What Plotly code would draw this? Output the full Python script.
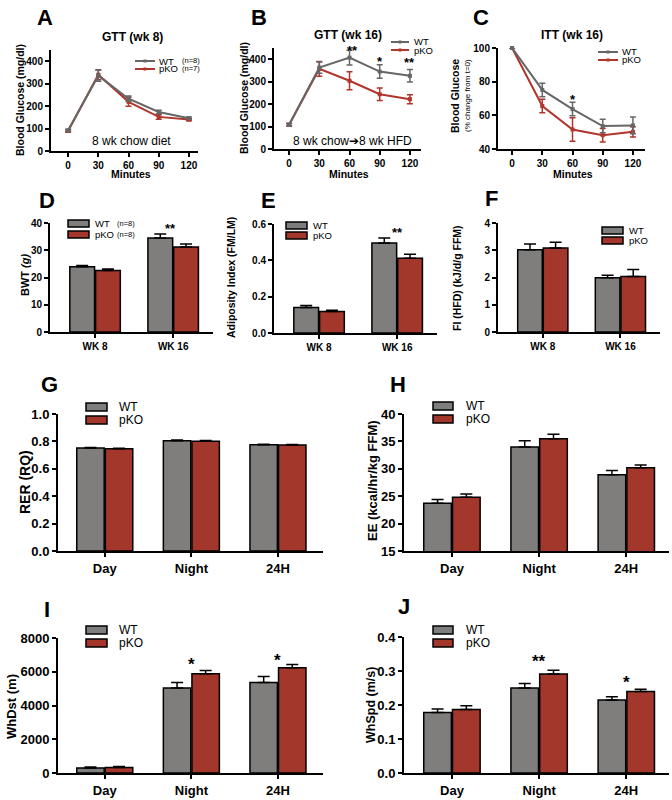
import plotly.graph_objects as go

W, H = 672, 800

# ---------------- data ----------------
minutes = [0, 30, 60, 90, 120]
gtt8_wt = [92, 336, 233, 174, 146]
gtt8_wt_err = [5, 25, 12, 8, 5]
gtt8_ko = [89, 340, 219, 152, 140]
gtt8_ko_err = [5, 22, 20, 10, 5]

gtt16_wt = [108, 363, 407, 345, 326]
gtt16_wt_err = [6, 25, 33, 30, 28]
gtt16_ko = [108, 357, 304, 244, 222]
gtt16_ko_err = [6, 33, 40, 28, 20]

itt_wt = [100, 75.1, 63.7, 53.6, 54.0]
itt_wt_err = [0, 4, 4, 4, 5]
itt_ko = [100, 65.5, 51.6, 48.2, 50.2]
itt_ko_err = [0, 4, 7, 4, 3]

weeks = ["WK 8", "WK 16"]
bwt_wt = [23.9, 34.5]
bwt_wt_err = [0.5, 1.5]
bwt_ko = [22.6, 31.2]
bwt_ko_err = [0.5, 1.1]
adi_wt = [0.141, 0.495]
adi_wt_err = [0.011, 0.028]
adi_ko = [0.119, 0.411]
adi_ko_err = [0.006, 0.022]
fi_wt = [3.02, 1.99]
fi_wt_err = [0.21, 0.09]
fi_ko = [3.08, 2.04]
fi_ko_err = [0.21, 0.25]

periods = ["Day", "Night", "24H"]
rer_wt = [0.751, 0.805, 0.776]
rer_wt_err = [0.004, 0.005, 0.004]
rer_ko = [0.746, 0.802, 0.773]
rer_ko_err = [0.004, 0.005, 0.004]
ee_wt = [23.7, 34.0, 28.9]
ee_wt_err = [0.7, 1.1, 0.8]
ee_ko = [24.8, 35.5, 30.2]
ee_ko_err = [0.6, 0.8, 0.5]
whdst_wt = [300, 5030, 5370]
whdst_wt_err = [50, 340, 350]
whdst_ko = [330, 5880, 6230]
whdst_ko_err = [60, 200, 200]
whspd_wt = [0.178, 0.250, 0.215]
whspd_wt_err = [0.010, 0.013, 0.009]
whspd_ko = [0.187, 0.291, 0.240]
whspd_ko_err = [0.011, 0.011, 0.006]

# ---------------- style ----------------
FONT = "Liberation Sans, Arial, DejaVu Sans, sans-serif"
GRAY_BAR = "#7f7e7c"
RED_BAR = "#a3372c"
GRAY_LINE = "#666666"
RED_LINE = "#b0352b"


def px_x(p):
    return p / W


def px_y(p):
    return 1 - p / H


fig = go.Figure()
layout = dict(
    template="none",
    width=W, height=H, margin=dict(l=0, r=0, t=0, b=0, pad=0, autoexpand=False),
    paper_bgcolor="white", plot_bgcolor="white",
    showlegend=False, barmode="group", bargap=0.34, bargroupgap=0.04,
    font=dict(family=FONT, color="black"),
)
annotations = []
shapes = []


def axis_style(tsize):
    return dict(showline=True, linecolor="black", linewidth=2, ticks="outside",
                ticklen=4, tickwidth=2, tickcolor="black", showgrid=False,
                zeroline=False, fixedrange=True, automargin=False,
                tickfont=dict(family=FONT, size=tsize, color="black", weight="bold"))


def make_axes(i, xdom, ydom, xrange_, yrange_, dtick, tsize, xtsize=None,
              xticks=None, tickformat=None, categorical=False):
    xs = axis_style(xtsize or tsize)
    ys = axis_style(tsize)
    xa = dict(xs, domain=[px_x(xdom[0]), px_x(xdom[1])], range=xrange_,
              anchor=f"y{i}")
    if categorical:
        xa["type"] = "category"
    else:
        xa.update(tickmode="array", tickvals=xticks)
    ya = dict(ys, domain=[px_y(ydom[1]), px_y(ydom[0])], range=yrange_,
              anchor=f"x{i}", tick0=yrange_[0], dtick=dtick)
    if tickformat:
        ya["tickformat"] = tickformat
    layout[f"xaxis{i}"] = xa
    layout[f"yaxis{i}"] = ya


def line_pair(i, wt, wt_err, ko, ko_err):
    for y, e, c in ((ko, ko_err, RED_LINE), (wt, wt_err, GRAY_LINE)):
        fig.add_trace(go.Scatter(
            x=minutes, y=y, mode="lines+markers", xaxis=f"x{i}", yaxis=f"y{i}",
            line=dict(color=c, width=2), marker=dict(symbol="square", size=4, color=c),
            error_y=dict(type="data", array=e, color=c, thickness=1.5, width=3),
            cliponaxis=False))


def bar_pair(i, cats, wt, wt_err, ko, ko_err):
    for y, e, c in ((wt, wt_err, GRAY_BAR), (ko, ko_err, RED_BAR)):
        fig.add_trace(go.Bar(
            x=cats, y=y, xaxis=f"x{i}", yaxis=f"y{i}",
            marker=dict(color=c, line=dict(color="black", width=1.5)),
            error_y=dict(type="data", symmetric=False, array=e,
                         arrayminus=[0] * len(e), color="black",
                         thickness=1.5, width=6)))


def text(x, y, s, size, bold=False, angle=0, anchor="center"):
    annotations.append(dict(
        x=px_x(x), y=px_y(y), xref="paper", yref="paper", text=s,
        showarrow=False, xanchor=anchor, yanchor="middle", textangle=angle,
        font=dict(family=FONT, size=size, color="black",
                  weight="bold" if bold else "normal")))


def data_text(i, x, y, s, size, xshift=0):
    annotations.append(dict(
        x=x, y=y, xref=f"x{i}", yref=f"y{i}", text=s, showarrow=False,
        xanchor="center", yanchor="middle", xshift=xshift,
        font=dict(family=FONT, size=size, color="black", weight="bold")))


def line_legend(x0, x1, ys, labels, tx, size, extra=None, ex=None, esize=7):
    for yy, lab, c, k in zip(ys, labels, (GRAY_LINE, RED_LINE), range(2)):
        shapes.append(dict(type="line", xref="paper", yref="paper",
                           x0=px_x(x0), x1=px_x(x1), y0=px_y(yy), y1=px_y(yy),
                           line=dict(color=c, width=2)))
        xm = (x0 + x1) / 2
        shapes.append(dict(type="rect", xref="paper", yref="paper",
                           x0=px_x(xm - 1.5), x1=px_x(xm + 1.5),
                           y0=px_y(yy + 1.5), y1=px_y(yy - 1.5),
                           fillcolor=c, line=dict(width=0)))
        text(tx, yy, lab, size, anchor="left")
        if extra:
            text(ex, yy - 0.5, extra[k], esize, anchor="left")


def bar_legend(x0, x1, rects, labels, tx, size, extra=None, ex=None, esize=7):
    for (t, b), lab, c, k in zip(rects, labels, (GRAY_BAR, RED_BAR), range(2)):
        shapes.append(dict(type="rect", xref="paper", yref="paper",
                           x0=px_x(x0), x1=px_x(x1), y0=px_y(b), y1=px_y(t),
                           fillcolor=c, line=dict(color="black", width=1.5)))
        text(tx, (t + b) / 2, lab, size, anchor="left")
        if extra:
            text(ex, (t + b) / 2 - 0.5, extra[k], esize, anchor="left")


# ---------------- Row 1: line charts ----------------
make_axes(1, (51, 198), (50, 151), [-17, 129], [0, 450], 100, 10, xticks=minutes)
line_pair(1, gtt8_wt, gtt8_wt_err, gtt8_ko, gtt8_ko_err)
make_axes(2, (274, 421), (48, 149), [-15, 131], [0, 450], 100, 10, xticks=minutes)
line_pair(2, gtt16_wt, gtt16_wt_err, gtt16_ko, gtt16_ko_err)
make_axes(3, (498, 645), (48, 149), [-14, 132], [40, 100], 20, 10, xticks=minutes)
line_pair(3, itt_wt, itt_wt_err, itt_ko, itt_ko_err)

text(45, 18, "A", 22, bold=True)
text(259, 18, "B", 22, bold=True)
text(481, 18, "C", 22, bold=True)
text(132, 37, "GTT (wk 8)", 12, bold=True)
text(348, 35, "GTT (wk 16)", 12, bold=True)
text(572, 35, "ITT (wk 16)", 12, bold=True)
text(20, 100, "Blood Glucose (mg/dl)", 10.5, bold=True, angle=-90)
text(244, 98, "Blood Glucose (mg/dl)", 10.5, bold=True, angle=-90)
text(455, 96, "Blood Glucose", 10.5, bold=True, angle=-90)
text(467, 96, "(% change from t=0)", 8, angle=-90)
text(131, 174, "Minutes", 10.5, bold=True)
text(349, 174, "Minutes", 10.5, bold=True)
text(573, 174, "Minutes", 10.5, bold=True)
text(131, 141, "8 wk chow diet", 12)
text(352, 141, "8 wk chow\u27948 wk HFD", 12)

line_legend(135, 155, (61, 69), ("WT", "pKO"), 157, 9.5,
            extra=("(n=8)", "(n=7)"), ex=180, esize=7.5)
line_legend(391, 409, (42, 50), ("WT", "pKO"), 412, 9.5)
line_legend(598, 618, (52, 60), ("WT", "pKO"), 620, 9.5)

text(352, 50, "**", 13, bold=True)
data_text(2, 90, 392, "*", 13)
data_text(2, 120, 384, "**", 13)
data_text(3, 60, 69.5, "*", 13)

# ---------------- Row 2: bars (wk) ----------------
make_axes(4, (50, 213), (223, 332), [-0.577, 1.51], [0, 40], 10, 10, categorical=True)
bar_pair(4, weeks, bwt_wt, bwt_wt_err, bwt_ko, bwt_ko_err)
make_axes(5, (274, 437), (224, 333), [-0.577, 1.51], [0, 0.6], 0.2, 10,
          categorical=True, tickformat=".1f")
bar_pair(5, weeks, adi_wt, adi_wt_err, adi_ko, adi_ko_err)
make_axes(6, (498, 660), (223, 332), [-0.577, 1.51], [0, 4], 1, 10, categorical=True)
bar_pair(6, weeks, fi_wt, fi_wt_err, fi_ko, fi_ko_err)

text(47, 200, "D", 22, bold=True)
text(268, 200, "E", 22, bold=True)
text(491, 198, "F", 22, bold=True)
annotations.append(dict(
    x=px_x(25), y=px_y(275), xref="paper", yref="paper", showarrow=False,
    text="BWT <i>(g)</i>", textangle=-90, xanchor="center", yanchor="middle",
    font=dict(family=FONT, size=11, color="black", weight="bold")))
text(231, 278, "Adiposity Index (FM/LM)", 10.5, bold=True, angle=-90)
text(457, 278, "FI (HFD) (kJ/d/g FFM)", 10.5, bold=True, angle=-90)

bar_legend(68, 89, ((220, 227), (231, 238)), ("WT", "pKO"), 93, 9.5,
           extra=("(n=8)", "(n=8)"), ex=115, esize=7.5)
bar_legend(286, 307, ((222, 229), (232, 239)), ("WT", "pKO"), 311, 9.5)
bar_legend(602, 623, ((227, 234), (237, 244)), ("WT", "pKO"), 627, 9.5)

data_text(4, "WK 16", 37.9, "**", 13, xshift=-3)
data_text(5, "WK 16", 0.553, "**", 13)

# ---------------- Row 3/4: bars (periods) ----------------
make_axes(7, (58, 323), (414, 551), [-0.54, 2.52], [0, 1], 0.2, 13,
          categorical=True, tickformat=".1f")
bar_pair(7, periods, rer_wt, rer_wt_err, rer_ko, rer_ko_err)
make_axes(8, (404, 669), (414, 551), [-0.55, 2.49], [15, 40], 5, 13, categorical=True)
bar_pair(8, periods, ee_wt, ee_wt_err, ee_ko, ee_ko_err)
make_axes(9, (58, 323), (638, 773), [-0.54, 2.52], [0, 8000], 2000, 13, categorical=True)
bar_pair(9, periods, whdst_wt, whdst_wt_err, whdst_ko, whdst_ko_err)
make_axes(10, (404, 669), (637, 773), [-0.55, 2.49], [0, 0.4], 0.1, 13,
          categorical=True, tickformat=".1f")
bar_pair(10, periods, whspd_wt, whspd_wt_err, whspd_ko, whspd_ko_err)

text(49, 385, "G", 22, bold=True)
text(398, 385, "H", 22, bold=True)
text(47, 609, "I", 22, bold=True)
text(404, 606, "J", 22, bold=True)
text(25, 482, "RER (RQ)", 14, bold=True, angle=-90)
text(373, 481, "EE (kcal/hr/kg FFM)", 13, bold=True, angle=-90)
text(11, 707, "WhDst (m)", 13, bold=True, angle=-90)
text(371, 705, "WhSpd (m/s)", 12.5, bold=True, angle=-90)

bar_legend(86, 107, ((403, 411), (416, 424)), ("WT", "pKO"), 117, 12)
bar_legend(433, 453, ((402, 410), (415, 423)), ("WT", "pKO"), 464, 12)
bar_legend(86, 107, ((626, 634), (639, 647)), ("WT", "pKO"), 117, 12)
bar_legend(433, 453, ((626, 634), (639, 647)), ("WT", "pKO"), 464, 12)

data_text(9, "Night", 6450, "*", 17)
data_text(9, "24H", 6650, "*", 17)
data_text(10, "Night", 0.327, "**", 17)
data_text(10, "24H", 0.266, "*", 17)

layout["annotations"] = annotations
layout["shapes"] = shapes
fig.update_layout(**layout)
fig.write_html("out.html", post_script="document.body.style.margin='0';",
               config={"displayModeBar": False})
